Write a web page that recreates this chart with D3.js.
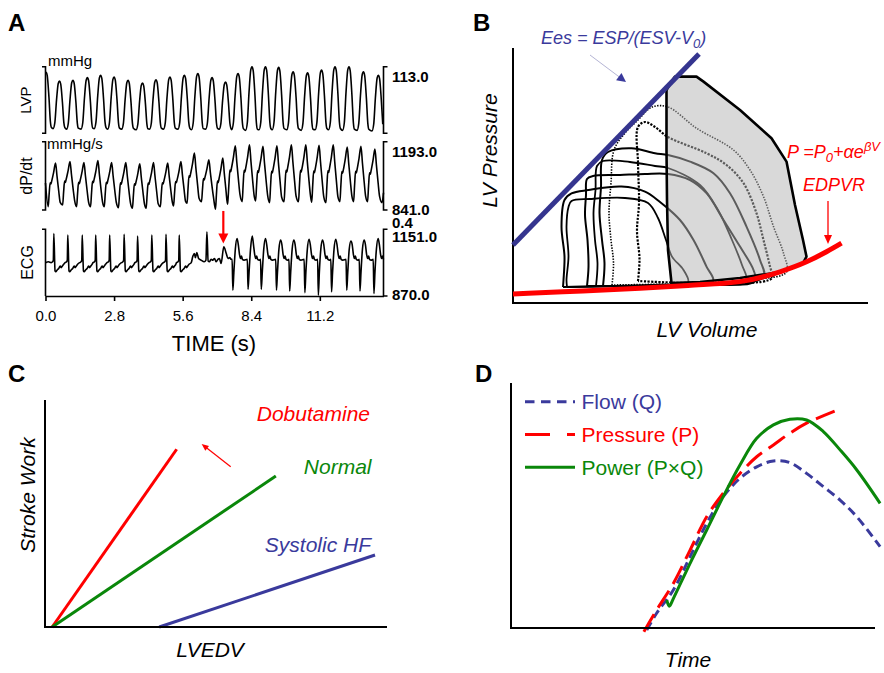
<!DOCTYPE html>
<html lang="en">
<head>
<meta charset="UTF-8">
<title>LV function panels</title>
<script src="https://cdn.jsdelivr.net/npm/d3@7/dist/d3.min.js"></script>
<style>
    body { margin: 0; background: #fff; }
    svg { display: block; font-family: "Liberation Sans", Arial, sans-serif; }
    .plabel { font-size: 24px; font-weight: bold; }
    .trace { fill: none; stroke: #000; stroke-width: 1.6px; stroke-linejoin: round; }
    .bracket { fill: none; stroke: #000; stroke-width: 1.6px; }
    .val { font-size: 15px; font-weight: bold; }
    .unit { font-size: 15px; }
    .axline { fill: none; stroke: #000; stroke-width: 2px; }
    .ital { font-style: italic; font-size: 21px; }
</style>
</head>
<body>
<div id="chart"></div>
<script>
    // ---------- A: recorded traces (time in s) ----------
    const TIME_TICKS = [0, 2.8, 5.6, 8.4, 11.2];
    const TIME_END = 13.8;

    // LVP (mmHg): peak time, peak and trough of each beat
    const LVP_PEAK_T = [0.02, 0.57, 1.12, 1.71, 2.25, 2.80, 3.37, 3.96, 4.51, 5.08, 5.67, 6.22, 6.80, 7.35, 7.86, 8.43, 8.98, 9.52, 10.11, 10.70, 11.27, 11.82, 12.39, 12.98, 13.59];
    const LVP_PEAK = [104, 88.6, 89.9, 94.4, 98.5, 95.6, 89.9, 85.2, 90.9, 95.6, 98.5, 101.3, 94.4, 86.9, 101.3, 113, 113, 111.8, 104.3, 102.5, 107.2, 113, 113, 104.3, 98.5];
    const LVP_TROUGH = [8, 8, 7, 7, 8, 7, 7, 6, 7, 7, 7, 6, 7, 7, 6, 5, 6, 6, 6, 5, 6, 6, 5, 5, 4];
    // beat shape: [s from peak, fraction of trough->peak]
    const LVP_BEAT = [[-0.26, 0], [-0.19, 0.12], [-0.12, 0.6], [-0.05, 0.95], [0, 1], [0.05, 0.94], [0.12, 0.56], [0.18, 0.12], [0.22, 0.02]];

    // dP/dt
    const DPDT_PEAK_T = [0.41, 1.00, 1.57, 2.14, 2.70, 3.28, 3.85, 4.41, 4.99, 5.53, 6.08, 6.67, 7.24, 7.75, 8.33, 8.88, 9.45, 10.04, 10.63, 11.17, 11.75, 12.32, 12.88, 13.45];
    const DPDT_PEAK = [1083, 1091, 1086, 1096, 1086, 1086, 1079, 1086, 1083, 1091, 1134, 1100, 1109, 1172, 1177, 1169, 1172, 1177, 1177, 1174, 1177, 1166, 1169, 1155];
    const DPDT_TROUGH = [858, 867, 858, 858, 858, 853, 850, 850, 858, 862, 876, 884, 845, 893, 884, 888, 879, 884, 884, 881, 879, 884, 884, 884];
    const DPDT_BEAT = [[-0.30, 0], [-0.26, 0.3], [-0.22, 0.55], [-0.19, 0.52], [-0.16, 0.58], [-0.08, 0.78], [0, 1], [0.06, 0.7], [0.13, 0.36], [0.19, 0.1]];
    const DPDT_START = [[0, 980]];
    const DPDT_END = [[13.74, 879], [13.8, 930]];

    // ECG (mV): narrow complexes, then the irregular stretch, then wide complexes
    const ECG_START = [[0, 0.0], [0.12, 0.01]];
    const ECG_QRS_T = [0.34, 0.91, 1.50, 2.05, 2.62, 3.21, 3.76, 4.34, 4.92, 5.46];
    const ECG_QRS_R = [0.35, 0.33, 0.33, 0.33, 0.33, 0.34, 0.32, 0.33, 0.34, 0.33];
    const ECG_QRS_BEAT = [[-0.11, 0.0], [-0.05, 0.01], [-0.02, 0.03], [0, "R"], [0.05, -0.1], [0.08, -0.11], [0.13, -0.09], [0.2, -0.07], [0.26, -0.04], [0.3, -0.06], [0.35, -0.04], [0.40, -0.02]];
    const ECG_GAP = [[5.95, 0.0], [6.01, 0.07], [6.08, 0.11], [6.12, 0.06], [6.18, 0.12], [6.25, 0.05], [6.35, 0.03], [6.48, 0.01], [6.55, 0.03], [6.59, 0.37], [6.64, 0.02], [6.69, 0.01], [6.76, 0.04], [6.83, 0.03], [6.90, 0.05], [6.97, 0.01], [7.04, 0.04], [7.10, 0.05], [7.17, -0.01], [7.28, 0.19], [7.38, 0.11], [7.45, 0.05], [7.52, 0.06], [7.58, 0.04]];
    const ECG_WIDE_T = [7.65, 8.27, 8.81, 9.43, 9.97, 10.59, 11.14, 11.68, 12.30, 12.84, 13.41];
    const ECG_WIDE_S = [-0.33, -0.32, -0.32, -0.33, -0.34, -0.36, -0.39, -0.35, -0.33, -0.34, -0.37];
    const ECG_WIDE_H = [0.29, 0.32, 0.29, 0.27, 0.27, 0.28, 0.27, 0.28, 0.26, 0.27, 0.29];
    const ECG_WIDE_BEAT = [[-0.03, 0.04], [0, "S"], [0.04, -0.12], [0.10, 0.16], [0.17, "H"], [0.22, 0.22], [0.27, 0.1], [0.31, 0.05], [0.35, 0.08], [0.39, 0.04], [0.46, 0.03]];
    const ARROW_T = 7.26;

    // ---------- B: pressure-volume loops [volume, pressure] ----------
    const ESPVR = [[0, 29], [37.2, 124.5]];
    const EDPVR = [[0, 4.5], [10, 5.6], [25.4, 7.4], [35, 8.8], [45.4, 10.7], [53.4, 15.6], [58.7, 20.6], [62.7, 25.6], [65.7, 29.9]];
    const PV_FILLED = [[31.7, 10], [31, 26.5], [30.8, 51.5], [30.7, 76.5], [30.7, 106.5], [31.7, 110.7], [32.4, 113.2], [36.7, 113.2], [38.1, 110.7], [45.4, 96.5], [51.7, 82.4], [54.7, 70.7], [56.4, 49], [58, 31.5], [58.7, 23.2], [58, 20], [53.4, 15.5], [45.4, 12.5], [37.4, 10.5]];
    const PV_DOTTED = [[19.8, 9], [20.1, 20], [19.6, 31.5], [19.2, 45], [19.6, 60], [20.2, 76.5], [22.4, 85], [25, 91.5], [27.8, 98], [31, 98], [36.7, 87.4], [44.1, 76.5], [47.4, 66.5], [50.1, 53.2], [52.1, 38.2], [54.1, 24.9], [54.7, 15.5], [49.4, 12], [37.4, 10], [19.8, 9]];
    const PV_DASHED = [[25, 11], [25.3, 22], [24.8, 36], [25.2, 50], [25, 70], [25, 88], [26.4, 90.5], [28.4, 88], [31, 83], [38.7, 74.9], [42.7, 69], [46.1, 59.9], [48.7, 44.9], [50.1, 31.5], [51.4, 18.2], [51.8, 12.5], [37.4, 10], [25, 11]];
    const PV_SOLID_1 = [[18, 8.5], [18.3, 20], [17.8, 31.5], [17.3, 45], [17.6, 58], [17.8, 71.5], [19, 75.5], [23.7, 77.4], [28.4, 74.9], [31, 74], [35.4, 70.7], [40.1, 64.9], [43.4, 54.9], [46.7, 38.2], [49.4, 21.5], [50.1, 13], [37.4, 9.5], [18, 8.5]];
    const PV_SOLID_2 = [[16.6, 8.5], [16.9, 20], [16.4, 31.5], [16.1, 45], [16.5, 56.5], [16.8, 68.5], [18, 71], [23.4, 70.5], [28.4, 68.5], [31, 67.5], [37.4, 59], [41, 46.5], [43.8, 31.5], [45.8, 19], [46.6, 11.5], [37.4, 9], [16.6, 8.5]];
    const PV_SOLID_3 = [[14.8, 8.5], [15.1, 18], [14.9, 31.5], [14.4, 44], [14.6, 54], [14.8, 62], [16, 63.5], [21.4, 64], [26.4, 64.5], [31, 64.5], [35.4, 61.5], [38.7, 54.9], [42.1, 41.5], [45.4, 28.2], [48.1, 16.5], [48.4, 11], [37.4, 9], [14.8, 8.5]];
    const PV_SOLID_4 = [[10.8, 8], [10.7, 11.5], [11.1, 23.2], [10.7, 38.2], [11.1, 48], [11.7, 51], [15.4, 52], [22.4, 52.5], [27, 50], [29, 42.5], [30.6, 31.5], [31.8, 23.2], [34.1, 16.5], [35, 10], [21.4, 8.5], [10.8, 8]];
    const PV_SOLID_5 = [[10, 8], [10.1, 11.5], [10.3, 23.2], [9.7, 38.2], [10.3, 51.5], [11.7, 54.8], [15.1, 56.5], [21.7, 58.2], [26.4, 55.7], [29.4, 50.5], [33.4, 41.5], [36.1, 31.5], [38.7, 18.2], [40, 11], [27.4, 9], [10, 8]];

    // ---------- C: stroke work vs LVEDV ----------
    const SW_DOBUTAMINE = [[2.1, 0], [38.5, 78.3]];
    const SW_NORMAL = [[2.1, 0], [67.5, 66.5]];
    const SW_SYSTOLIC_HF = [[33.4, 0], [96.5, 31.7]];

    // ---------- D: flow, pressure, power over time ----------
    const FLOW_T = [37.3, 40.0, 44.6, 49.2, 53.8, 58.3, 62.9, 67.5, 72.1, 76.6, 81.2, 85.8, 90.4, 95.0, 101.4];
    const FLOW_V = [-0.8, 6.0, 15.5, 29.1, 42.8, 53.6, 61.1, 65.8, 68.2, 67.5, 63.1, 57.7, 52.2, 45.4, 33.2];
    const PRES_T = [36.5, 40.0, 44.6, 49.2, 53.8, 58.3, 62.9, 67.5, 72.1, 76.6, 81.2, 89.5];
    const PRES_V = [-1.5, 7.3, 18.2, 31.8, 45.5, 55.0, 63.1, 69.9, 74.7, 79.5, 83.6, 88.9];
    const POWER_T = [42.8, 43.5, 44.6, 49.2, 53.8, 58.3, 62.9, 67.5, 72.1, 76.6, 81.2, 85.8, 90.4, 95.0, 101.4];
    const POWER_V = [11.4, 8.9, 12.0, 26.4, 40.1, 53.6, 66.5, 77.4, 82.9, 85.2, 84.9, 80.2, 72.7, 64.5, 50.9];

    const RED = "#ff0000";
    const GREEN = "#0a870a";
    const BLUE = "#3a3a9c";

    const svg = d3.select("#chart")
        .append("svg")
        .attr("width", 884)
        .attr("height", 673);
    const defs = svg.append("defs");

    function text(x, y, str, cls) {
        return svg.append("text").attr("x", x).attr("y", y).attr("class", cls).text(str);
    }

    function vtext(x, y, str, cls) {
        return svg.append("text")
            .attr("transform", "translate(" + x + "," + y + ") rotate(-90)")
            .attr("text-anchor", "middle")
            .attr("class", cls)
            .text(str);
    }

    function arrow(x1, y1, x2, y2, o) {
        const a = Math.atan2(y2 - y1, x2 - x1);
        const hx = x2 - o.len * Math.cos(a);
        const hy = y2 - o.len * Math.sin(a);
        const nx = Math.sin(a) * o.wid / 2;
        const ny = -Math.cos(a) * o.wid / 2;
        svg.append("line")
            .attr("x1", x1).attr("y1", y1)
            .attr("x2", hx + (x2 - hx) * 0.3).attr("y2", hy + (y2 - hy) * 0.3)
            .attr("stroke", o.line || o.color)
            .attr("stroke-width", o.stroke);
        svg.append("path")
            .attr("d", "M" + x2 + "," + y2 + "L" + (hx + nx) + "," + (hy + ny) + "L" + (hx - nx) + "," + (hy - ny) + "Z")
            .attr("fill", o.color);
    }

    // ================= A =================
    text(8, 31, "A", "plabel");

    const tx = d3.scaleLinear().domain([0, TIME_END]).range([45.5, 383.5]);
    const lvpY = d3.scaleLinear().domain([0, 113]).range([133.3, 66.7]);
    const dpdtY = d3.scaleLinear().domain([841, 1193]).range([210, 141.7]);
    const ecgY = d3.scaleLinear().domain([-0.4, 0.4]).range([296, 229.3]);

    function beatPoints(times, shape, valueAt) {
        const pts = [];
        times.forEach(function (t0, i) {
            shape.forEach(function (s) {
                pts.push([t0 + s[0], valueAt(i, s[1])]);
            });
        });
        return pts;
    }

    function inWindow(pts) {
        const sorted = pts.filter(function (p) { return p[0] >= 0 && p[0] <= TIME_END; })
            .sort(function (a, b) { return a[0] - b[0]; });
        return sorted.filter(function (p, i) { return i === 0 || p[0] > sorted[i - 1][0]; });
    }

    const lvpPts = inWindow(beatPoints(LVP_PEAK_T, LVP_BEAT, function (i, f) {
        return LVP_TROUGH[i] + f * (LVP_PEAK[i] - LVP_TROUGH[i]);
    }));
    const dpdtPts = inWindow([].concat(DPDT_START, beatPoints(DPDT_PEAK_T, DPDT_BEAT, function (i, f) {
        return DPDT_TROUGH[i] + f * (DPDT_PEAK[i] - DPDT_TROUGH[i]);
    }), DPDT_END));
    const ecgPts = inWindow([].concat(
        ECG_START,
        beatPoints(ECG_QRS_T, ECG_QRS_BEAT, function (i, v) { return v === "R" ? ECG_QRS_R[i] : v; }),
        ECG_GAP,
        beatPoints(ECG_WIDE_T, ECG_WIDE_BEAT, function (i, v) {
            return v === "S" ? ECG_WIDE_S[i] : (v === "H" ? ECG_WIDE_H[i] : v);
        })
    ));

    [[lvpPts, lvpY], [dpdtPts, dpdtY], [ecgPts, ecgY]].forEach(function (tr) {
        const line = d3.line()
            .x(function (d) { return tx(d[0]); })
            .y(function (d) { return tr[1](d[1]); })
            .curve(d3.curveMonotoneX);
        svg.append("path").attr("class", "trace").attr("d", line(tr[0]));
    });

    function bracket(yScale, openBottomLeft) {
        const top = yScale.range()[1], bot = yScale.range()[0];
        const xl = tx.range()[0], xr = tx.range()[1];
        svg.append("path").attr("class", "bracket")
            .attr("d", "M" + (xl - 3.5) + "," + top + "H" + xl + "V" + bot + (openBottomLeft ? "" : "H" + (xl - 3.5)));
        svg.append("path").attr("class", "bracket")
            .attr("d", "M" + (xr + 4) + "," + top + "H" + xr + "V" + bot + "H" + (xr + 4));
    }
    bracket(lvpY, false);
    bracket(dpdtY, false);
    bracket(ecgY, true);

    const xAxis = svg.append("g")
        .attr("transform", "translate(0," + ecgY.range()[0] + ")")
        .call(d3.axisBottom(tx).tickValues(TIME_TICKS).tickFormat(d3.format(".1f"))
            .tickSize(5).tickSizeOuter(0).tickPadding(9))
        .attr("font-family", null)
        .attr("font-size", 15);
    xAxis.select(".domain").attr("stroke-width", 1.6);
    xAxis.selectAll(".tick line").attr("stroke-width", 1.6);

    text(214, 351, "TIME (s)", "").attr("font-size", 22).attr("text-anchor", "middle");

    text(48, 66, "mmHg", "unit");
    text(47, 148.5, "mmHg/s", "unit");
    vtext(31, 100, "LVP", "").attr("font-size", 15);
    vtext(31.5, 176, "dP/dt", "").attr("font-size", 16);
    vtext(33, 262.5, "ECG", "").attr("font-size", 16);

    text(392, 82, "113.0", "val");
    text(392, 157, "1193.0", "val");
    text(392, 214.5, "841.0", "val");
    text(392, 228, "0.4", "val");
    text(392, 241.5, "1151.0", "val");
    text(392, 300, "870.0", "val");

    arrow(tx(ARROW_T), ecgY(0.62), tx(ARROW_T), ecgY(0.23), { color: RED, len: 10, wid: 10, stroke: 2.2 });

    // ================= B =================
    text(473, 31, "B", "plabel");

    const bx = d3.scaleLinear().domain([0, 71]).range([513, 868]);
    const by = d3.scaleLinear().domain([0, 127.5]).range([303, 48]);
    const pvLine = d3.line()
        .x(function (d) { return bx(d[0]); })
        .y(function (d) { return by(d[1]); });
    const filledPath = pvLine.curve(d3.curveLinearClosed)(PV_FILLED);

    defs.append("clipPath").attr("id", "in-gray")
        .append("path").attr("d", filledPath);
    const mask = defs.append("mask").attr("id", "out-gray");
    mask.append("rect").attr("x", 0).attr("y", 0).attr("width", 884).attr("height", 673).attr("fill", "#fff");
    mask.append("path").attr("d", filledPath).attr("fill", "#000");

    svg.append("path").attr("d", filledPath).attr("fill", "#d9d9d9");

    const pvTraces = [
        { pts: PV_SOLID_5, dash: null, w: 2 },
        { pts: PV_SOLID_4, dash: null, w: 1.8 },
        { pts: PV_SOLID_3, dash: null, w: 2 },
        { pts: PV_SOLID_2, dash: null, w: 1.8 },
        { pts: PV_SOLID_1, dash: null, w: 2 },
        { pts: PV_DASHED, dash: "2.2,1.4", w: 2.2 },
        { pts: PV_DOTTED, dash: "1.4,1.4", w: 1.6 }
    ];
    const loopLine = d3.line()
        .x(function (d) { return bx(d[0]); })
        .y(function (d) { return by(d[1]); })
        .curve(d3.curveCatmullRom.alpha(0.5));

    const outside = svg.append("g").attr("mask", "url(#out-gray)");
    const inside = svg.append("g").attr("clip-path", "url(#in-gray)");
    pvTraces.forEach(function (tr) {
        [[outside, "#000"], [inside, "#5c5c5c"]].forEach(function (g) {
            g[0].append("path")
                .attr("d", loopLine(tr.pts))
                .attr("fill", "none")
                .attr("stroke", g[1])
                .attr("stroke-width", tr.w)
                .attr("stroke-dasharray", tr.dash);
        });
    });

    svg.append("path").attr("d", filledPath)
        .attr("fill", "none").attr("stroke", "#000").attr("stroke-width", 2.6).attr("stroke-linejoin", "round");

    svg.append("path").attr("class", "axline")
        .attr("d", "M" + bx(0) + "," + by(127.5) + "V" + by(0) + "H" + bx(71));

    svg.append("path")
        .attr("d", pvLine.curve(d3.curveLinear)(ESPVR))
        .attr("stroke", "#35358f").attr("stroke-width", 5).attr("fill", "none");
    svg.append("path")
        .attr("d", pvLine.curve(d3.curveMonotoneX)(EDPVR))
        .attr("stroke", RED).attr("stroke-width", 5).attr("fill", "none");

    const ees = svg.append("text").attr("x", 541).attr("y", 44)
        .attr("fill", BLUE).attr("font-size", 18).attr("font-style", "italic");
    ees.append("tspan").text("Ees = ESP/(ESV-V");
    ees.append("tspan").attr("font-size", 13).attr("dy", 4).text("0");
    ees.append("tspan").attr("dy", -4).text(")");
    arrow(bx(15.4), by(124), bx(22.6), by(110.5), { color: BLUE, line: "#b4b4d4", len: 9, wid: 9, stroke: 1 });

    const pf = svg.append("text").attr("x", 787).attr("y", 158)
        .attr("fill", RED).attr("font-size", 18).attr("font-style", "italic");
    pf.append("tspan").text("P =P");
    pf.append("tspan").attr("font-size", 13).attr("dy", 4).text("0");
    pf.append("tspan").attr("dy", -4).text("+αe");
    pf.append("tspan").attr("font-size", 13).attr("dy", -7).text("βV");
    text(803, 191, "EDPVR", "").attr("fill", RED).attr("font-size", 18).attr("font-style", "italic");
    arrow(bx(63), by(51), bx(63), by(29.5), { color: RED, len: 9, wid: 8, stroke: 1.3 });

    vtext(497, 150.5, "LV Pressure", "ital");
    text(707, 336.5, "LV Volume", "ital").attr("text-anchor", "middle");

    // ================= C =================
    text(8, 382, "C", "plabel");

    const cx = d3.scaleLinear().domain([0, 100]).range([45, 387]);
    const cy = d3.scaleLinear().domain([0, 100]).range([627, 400]);
    const swLine = d3.line()
        .x(function (d) { return cx(d[0]); })
        .y(function (d) { return cy(d[1]); });

    [[SW_DOBUTAMINE, RED], [SW_NORMAL, GREEN], [SW_SYSTOLIC_HF, BLUE]].forEach(function (s) {
        svg.append("path").attr("d", swLine(s[0]))
            .attr("stroke", s[1]).attr("stroke-width", 3).attr("fill", "none");
    });
    svg.append("path").attr("class", "axline")
        .attr("d", "M" + cx(0) + "," + cy(100) + "V" + cy(0) + "H" + cx(100));

    text(370, 420.5, "Dobutamine", "ital").attr("fill", RED).attr("text-anchor", "end");
    text(371.5, 474, "Normal", "ital").attr("fill", GREEN).attr("text-anchor", "end");
    text(371, 551.5, "Systolic HF", "ital").attr("fill", BLUE).attr("text-anchor", "end");
    arrow(cx(54.3), cy(70.6), cx(45.8), cy(80.6), { color: RED, len: 7, wid: 6, stroke: 1.2 });

    vtext(35, 495, "Stroke Work", "ital");
    text(210, 657, "LVEDV", "ital").attr("text-anchor", "middle");

    // ================= D =================
    text(475, 382, "D", "plabel");

    const dx = d3.scaleLinear().domain([0, 100]).range([511, 875]);
    const dy = d3.scaleLinear().domain([0, 100]).range([628, 383]);

    function series(ts, vs) {
        return ts.map(function (t, i) { return [t, vs[i]]; });
    }
    const dLine = d3.line()
        .x(function (d) { return dx(d[0]); })
        .y(function (d) { return dy(d[1]); })
        .curve(d3.curveCatmullRom.alpha(0.5));

    const dSeries = [
        { name: "Flow (Q)", pts: series(FLOW_T, FLOW_V), color: BLUE, dash: "9,5", legendDash: "9.5,6.5" },
        { name: "Pressure (P)", pts: series(PRES_T, PRES_V), color: RED, dash: "20,8", legendDash: "25,17" },
        { name: "Power (P×Q)", pts: series(POWER_T, POWER_V), color: GREEN, dash: null, legendDash: null }
    ];

    dSeries.forEach(function (s, i) {
        svg.append("path").attr("d", dLine(s.pts))
            .attr("fill", "none").attr("stroke", s.color).attr("stroke-width", 3)
            .attr("stroke-dasharray", s.dash);
        const ly = 401.7 + i * 32.8;
        svg.append("line").attr("x1", 525).attr("x2", 575).attr("y1", ly).attr("y2", ly)
            .attr("stroke", s.color).attr("stroke-width", 3).attr("stroke-dasharray", s.legendDash);
        text(581.5, ly + 7.5, s.name, "").attr("fill", s.color).attr("font-size", 21);
    });

    svg.append("path").attr("class", "axline")
        .attr("d", "M" + dx(0) + "," + dy(100) + "V" + dy(0) + "H" + dx(100));

    text(688, 666.5, "Time", "ital").attr("text-anchor", "middle");
</script>
</body>
</html>
